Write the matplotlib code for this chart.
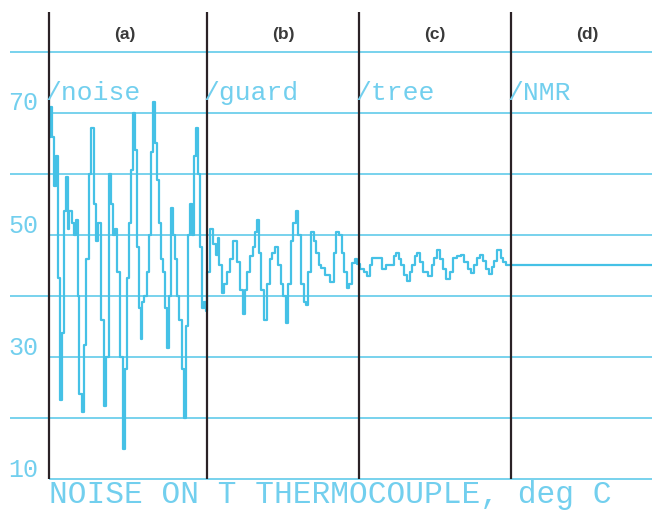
import numpy as np
import matplotlib
matplotlib.use("Agg")
import matplotlib.pyplot as plt

# chart recorder trace, thermocouple noise (deg C), time in samples
section_labels = ['(a)', '(b)', '(c)', '(d)']
section_names = ['noise', 'guard', 'tree', 'NMR']
section_start = [0, 158, 310, 462]

t_a = [0.5, 2, 4, 6, 8, 10, 12, 14, 15, 18, 19, 21, 24, 26, 28, 29, 31, 34, 36, 38,
       41, 43, 46, 48, 50, 53, 56, 58, 61, 63, 64, 67, 69, 72, 75, 77, 79, 81, 83, 85,
       87, 89, 91, 92, 94, 96, 99, 101, 103, 105, 107, 109, 111, 113, 115, 117, 119, 121,
       123, 125, 127, 129, 131, 134, 136, 138, 140, 142, 144, 146, 148, 150, 152, 154,
       156, 157]
y_a = [66, 71, 66, 58, 63, 43, 23, 34, 54, 59.5, 51, 54, 52, 50, 52.5, 40, 24, 21, 32, 46,
       60, 67.5, 55, 49, 52, 36, 22, 30, 60, 55, 50, 51, 44, 30, 15, 28, 43, 52, 60.6, 70,
       64, 48, 38, 33, 39, 40, 44, 50, 63.6, 71.8, 65, 59, 52, 46, 44, 38, 31.5, 40,
       54.4, 50, 46, 40, 36, 28, 20, 35, 50, 55, 50, 63, 67.5, 60, 48, 38,
       39, 37.5]

t_b = [159, 163, 165, 168, 169, 171, 174, 176, 179, 182, 186, 189, 192, 195, 197, 199,
       202, 205, 207, 209, 211, 213, 216, 219, 222, 224, 227, 230, 233, 235, 238, 240,
       243, 245, 248, 250, 253, 256, 258, 260, 263, 266, 268, 271, 273, 278, 283, 286,
       288, 291, 294, 296, 299, 301, 304, 307]
y_b = [44, 51, 48.5, 46.7, 49.5, 45, 40.5, 42, 44, 46, 49, 45.5, 41, 37, 41, 44,
       46.5, 48, 50.5, 52.5, 47, 41, 36, 42, 46, 47, 48, 45, 42, 40, 35.6, 42,
       49, 52, 54, 50, 42, 39, 38.5, 44, 50.5, 49, 47, 45, 44.6, 43.5, 42.3, 47,
       50.5, 50, 47, 44, 41.3, 42, 45.4, 46]

t_c = [309, 313, 316, 320, 322, 324, 331, 335, 338, 343, 346, 348, 351, 353, 356, 359,
       362, 364, 367, 369, 372, 376, 381, 384, 386, 389, 392, 395, 399, 402, 406, 410,
       413, 417, 420, 423, 426, 429, 432, 435, 438, 441, 444, 446, 450, 453, 455, 458]
y_c = [45.2, 44.5, 43.9, 43.2, 45, 46.2, 46.2, 44.5, 45, 45, 46.5, 47, 46, 45, 43.5, 42.5,
       44, 45, 46.5, 47, 45.5, 44, 43.3, 45, 46.2, 47.5, 46, 44.5, 42.8, 44, 46.2, 46.5,
       46.7, 45.5, 44.5, 43.8, 45, 46.2, 46.7, 45.8, 44.5, 43.6, 44.8, 45.8, 47.5, 46.3,
       45.5, 45]

t_d = [462, 603]
y_d = [45, 45]

labeled_levels = [10, 30, 50, 70]
plain_levels = [20, 40, 60, 80]
axis_title = 'NOISE ON T THERMOCOUPLE, deg C'

cyan = '#45c1e6'
text_cyan = '#72cfee'
dark = '#2b2226'
mono = ['Liberation Mono', 'DejaVu Sans Mono']

fig = plt.figure(figsize=(6.52, 5.12), dpi=100)
fig.set_facecolor('white')
ax = fig.add_axes([0, 0, 1, 1])
ax.set_xlim(-49, 603)
ax.set_ylim(4.6, 88.5)
ax.axis('off')

# horizontal chart lines
ax.hlines(plain_levels, -39, 603, color=cyan, lw=1.2, alpha=0.85)
ax.hlines(labeled_levels, 0, 603, color=cyan, lw=1.2, alpha=0.85)

# trace
t = np.concatenate([t_a, t_b, t_c, t_d])
y = np.concatenate([y_a, y_b, y_c, y_d])
ax.plot(t, y, color=cyan, lw=1.6, drawstyle='steps-mid')

# section dividers
ax.vlines(section_start, 10, 86.6, color=dark, lw=1.6)

for s, lab, name in zip(section_start, section_labels, section_names):
    ax.text(s + 76, 82.8, lab, ha='center', va='center', fontsize=12.5,
            fontweight='bold', color='#3a3a3a', family=['Liberation Sans', 'DejaVu Sans'])
    ax.text(s - 3, 72.1, '/' + name, ha='left', va='baseline', fontsize=19,
            color=text_cyan, family=mono)

for lv in labeled_levels:
    ax.text(-41, lv + 0.4, str(lv), ha='left', va='baseline', fontsize=18,
            color=text_cyan, family=mono)

ax.text(0, 6.0, axis_title, ha='left', va='baseline', fontsize=22.5,
        color=text_cyan, family=mono)

fig.savefig('out.png', dpi=100, facecolor='white')
